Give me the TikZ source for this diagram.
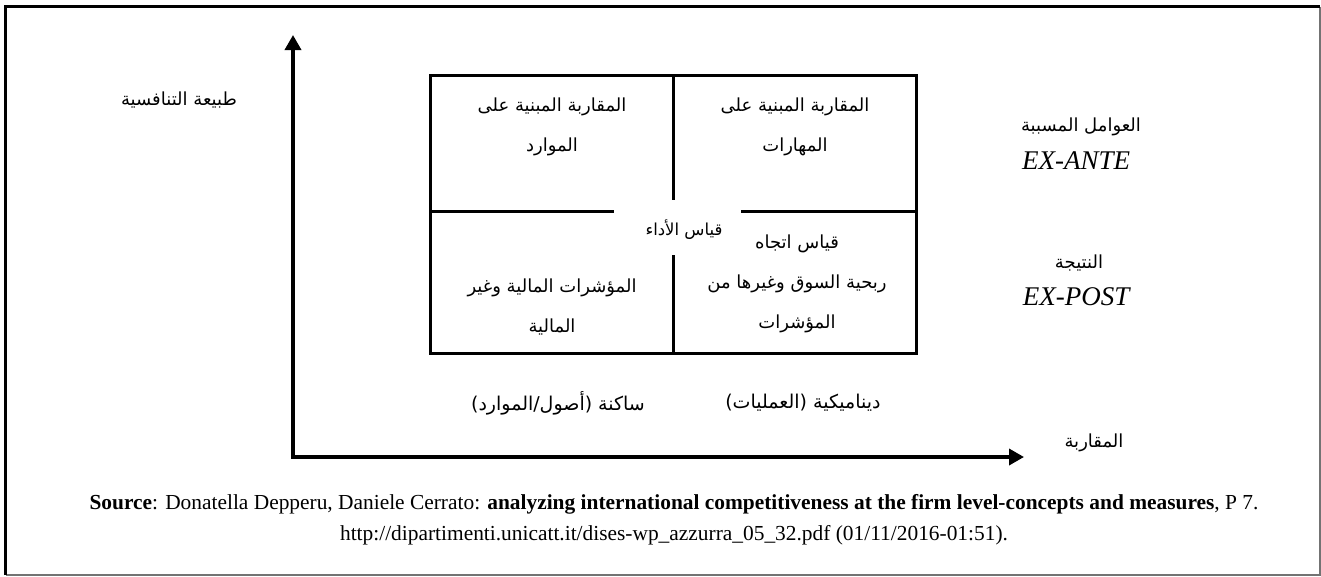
\documentclass[tikz,border=0pt]{standalone}
\usepackage{fontspec}
\setmainfont{Liberation Serif}
\newfontfamily\arabicfont[Script=Arabic]{DejaVu Sans}
\TeXXeTstate=1
\usetikzlibrary{arrows.meta}
\begin{document}
\begin{tikzpicture}[x=1pt,y=-1pt,
  ar/.style={font=\arabicfont\fontsize{18}{40}\selectfont, align=center, inner sep=0pt},
  arb/.style={ar, font=\arabicfont\fontsize{19}{40}\selectfont},
  en/.style={font=\fontsize{27}{30}\selectfont\itshape, inner sep=0pt},
  src/.style={font=\fontsize{21.4}{31}\selectfont, align=center, inner sep=0pt},
  boxline/.style={line width=3pt, line cap=rect},
  axis/.style={line width=3.5pt, {Triangle[length=15pt,width=16pt]}-{Triangle[length=15pt,width=16pt]}},
  frametl/.style={line width=3pt, black},
  framebr/.style={line width=1.5pt, black!55}]
\useasboundingbox (0,0) rectangle (1321,576);
% frame
\coordinate (fa) at (5.5,575);
\coordinate (fb) at (5.5,6.5);
\coordinate (fc) at (1320,6.5);
\coordinate (fd) at (1320,575);
\draw[framebr] (fc) -- (fd) -- (fa);
\draw[frametl] (fa) -- (fb) -- (fc);
% axes
\coordinate (O) at (293,457);
\coordinate (ytip) at (293,35);
\coordinate (xtip) at (1024,457);
\draw[axis] (ytip) -- (O) -- (xtip);
% box
\coordinate (b1) at (430,75);
\coordinate (b2) at (916,353);
\draw[boxline] (b1) rectangle (b2);
\coordinate (hl1) at (430,211);
\coordinate (hl2) at (612,211);
\coordinate (hr1) at (742,211);
\coordinate (hr2) at (916,211);
\coordinate (vt1) at (673,75);
\coordinate (vt2) at (673,198);
\coordinate (vb1) at (673,256);
\coordinate (vb2) at (673,353);
\draw[boxline] (hl1) -- (hl2);
\draw[boxline] (hr1) -- (hr2);
\draw[boxline] (vt1) -- (vt2);
\draw[boxline] (vb1) -- (vb2);
% texts
\node[ar] (nature) at (179,100) {\beginR طبيعة التنافسية\endR};
\node[ar] (tl) at (552,127) {\beginR المقاربة المبنية على\endR\\\beginR الموارد\endR};
\node[ar] (tr) at (795,127) {\beginR المقاربة المبنية على\endR\\\beginR المهارات\endR};
\node[ar] (cause) at (1081,127) {\beginR العوامل المسببة\endR};
\node[en] (exante) at (1076,161) {EX-ANTE};
\node[ar] (result) at (1079,263) {\beginR النتيجة\endR};
\node[en] (expost) at (1076,297) {EX-POST};
\node[ar, font=\arabicfont\fontsize{16.5}{20}\selectfont] (perf) at (684,230) {\beginR قياس الأداء\endR};
\node[ar] (br) at (797,284) {\beginR قياس اتجاه\endR\\\beginR ربحية السوق وغيرها من\endR\\\beginR المؤشرات\endR};
\node[ar] (bl) at (552,307) {\beginR المؤشرات المالية وغير\endR\\\beginR المالية\endR};
\node[arb] (static) at (558,403) {\beginR ساكنة (أصول/الموارد)\endR};
\node[arb] (dynamic) at (803,403) {\beginR ديناميكية (العمليات)\endR};
\node[ar] (approach) at (1094,443) {\beginR المقاربة\endR};
\node[src] (source) at (674,504) {\textbf{Source}: Donatella Depperu, Daniele Cerrato: \textbf{analyzing international competitiveness at the firm level-concepts and measures}, P 7.};
\node[src] (url) at (674,535) {http://dipartimenti.unicatt.it/dises-wp\_azzurra\_05\_32.pdf (01/11/2016-01:51).};
\end{tikzpicture}
\end{document}
